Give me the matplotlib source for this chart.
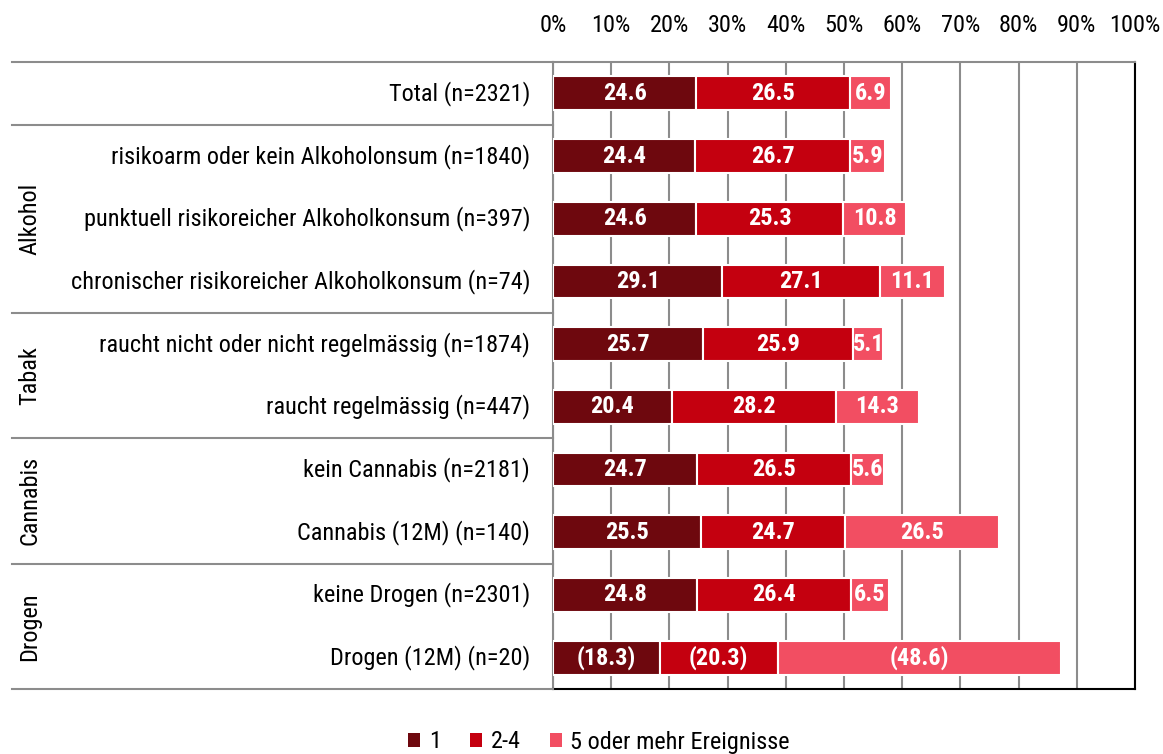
import matplotlib
matplotlib.use("Agg")
import matplotlib.pyplot as plt
from matplotlib.patches import Patch
from matplotlib import font_manager

categories = [
    "Total (n=2321)",
    "risikoarm oder kein Alkoholonsum (n=1840)",
    "punktuell risikoreicher Alkoholkonsum (n=397)",
    "chronischer risikoreicher Alkoholkonsum (n=74)",
    "raucht nicht oder nicht regelmässig (n=1874)",
    "raucht regelmässig (n=447)",
    "kein Cannabis (n=2181)",
    "Cannabis (12M) (n=140)",
    "keine Drogen (n=2301)",
    "Drogen (12M) (n=20)",
]
series_names = ["1", "2-4", "5 oder mehr Ereignisse"]
s1 = [24.6, 24.4, 24.6, 29.1, 25.7, 20.4, 24.7, 25.5, 24.8, 18.3]
s2 = [26.5, 26.7, 25.3, 27.1, 25.9, 28.2, 26.5, 24.7, 26.4, 20.3]
s3 = [6.9, 5.9, 10.8, 11.1, 5.1, 14.3, 5.6, 26.5, 6.5, 48.6]
bracketed = [False] * 9 + [True]
groups = [("Alkohol", 1, 3), ("Tabak", 4, 5), ("Cannabis", 6, 7), ("Drogen", 8, 9)]
tick_vals = list(range(0, 101, 10))
colors = ["#6E080E", "#C4000F", "#F24E62"]

avail = {f.name for f in font_manager.fontManager.ttflist}
fam = "DejaVu Sans"
for cand in ["Liberation Sans Narrow", "Arial Narrow", "Roboto Condensed",
             "PT Sans Narrow", "Archivo Narrow", "Barlow Semi Condensed"]:
    if cand in avail:
        fam = cand
        break
plt.rcParams["font.family"] = [fam, "DejaVu Sans"]
FS = 17.5
FSB = 17.5

fig = plt.figure(figsize=(11.63, 7.54), dpi=100)
ax = fig.add_axes([553 / 1163, 1 - 689 / 754, (1135 - 553) / 1163, (689 - 62) / 754])

ypos = list(range(len(categories)))
left = [0.0] * len(categories)
for vals, col, name in zip([s1, s2, s3], colors, series_names):
    ax.barh(ypos, vals, left=left, height=0.54, color=col,
            edgecolor="white", linewidth=1.5, label=name, zorder=3)
    for y, v, l, br in zip(ypos, vals, left, bracketed):
        txt = f"({v:.1f})" if br else f"{v:.1f}"
        ax.text(l + v / 2, y, txt, ha="center", va="center", color="white",
                fontsize=FSB, fontweight="bold", zorder=4)
    left = [a + b for a, b in zip(left, vals)]

ax.set_xlim(0, 100)
ax.set_ylim(len(categories) - 0.5, -0.5)
ax.set_xticks(tick_vals)
ax.set_xticklabels([f"{t}%" for t in tick_vals], fontsize=FS)
ax.xaxis.tick_top()
ax.tick_params(axis="x", length=0, pad=18)
ax.set_yticks(ypos)
ax.set_yticklabels(categories, fontsize=FS, va="center")
ax.tick_params(axis="y", length=0, pad=16.5)
ax.grid(axis="x", color="#8C8C8C", linewidth=1.5, zorder=0)
ax.set_axisbelow(True)

for side in ["left", "top"]:
    ax.spines[side].set_color("#8C8C8C")
    ax.spines[side].set_linewidth(1.5)
for side in ["right", "bottom"]:
    ax.spines[side].set_color("black")
    ax.spines[side].set_linewidth(1.5)

tr = ax.get_yaxis_transform()
x0 = (12 - 553) / (1135 - 553)
for yb in [-0.5, 0.5, 3.5, 5.5, 7.5, 9.5]:
    ax.plot([x0, 0], [yb, yb], color="#8C8C8C", linewidth=1.5,
            transform=tr, clip_on=False, zorder=5)

xg = (30 - 553) / (1135 - 553)
for name, a, b in groups:
    ax.text(xg, (a + b) / 2, name, transform=tr, rotation=90,
            ha="center", va="center", fontsize=FS)

handles = [Patch(facecolor=c, edgecolor="none") for c in colors]
fig.legend(handles, series_names, loc="center", bbox_to_anchor=(599 / 1163, 1 - 742 / 754),
           ncol=3, frameon=False, fontsize=FS, handlelength=0.5, handleheight=0.5,
           handletextpad=0.35, columnspacing=1.2)

fig.savefig("out.png", dpi=100)
